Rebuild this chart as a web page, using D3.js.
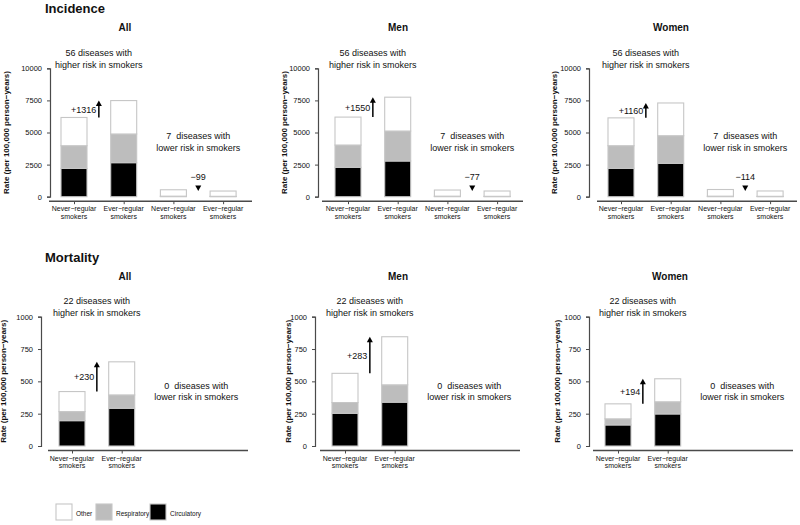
<!DOCTYPE html>
<html><head><meta charset="utf-8">
<script src="https://cdn.jsdelivr.net/npm/d3@7"></script>
<style>
body{margin:0;background:#fff}
svg text{font-family:"Liberation Sans",Arial,sans-serif;fill:#111}
</style>
</head><body>
<svg id="chart" width="800" height="525"></svg>
<script>
// ---------- DATA ----------
const panelNames = ["All", "Men", "Women"];
const slots = ["never-higher", "ever-higher", "never-lower", "ever-lower"];
const slotLabels = ["Never\u2212regular", "Ever\u2212regular", "Never\u2212regular", "Ever\u2212regular"];
const causes = ["Circulatory", "Respiratory", "Other"];
const legendOrder = ["Other", "Respiratory", "Circulatory"];
const incTicks = [0, 2500, 5000, 7500, 10000];
const mortTicks = [0, 250, 500, 750, 1000];

// Incidence, diseases with higher risk in smokers: [never, ever] per panel (All, Men, Women)
const incHighCirc  = [[2200, 2650], [2290, 2780], [2210, 2600]];
const incHighResp  = [[1770, 2235], [1735, 2335], [1760, 2150]];
const incHighOther = [[2200, 2601], [2175, 2635], [2170, 2550]];
// Incidence, diseases with lower risk in smokers
const incLowCirc   = [[20, 15], [20, 15], [20, 15]];
const incLowResp   = [[20, 15], [20, 15], [20, 15]];
const incLowOther  = [[500, 411], [480, 413], [520, 416]];
// Mortality, diseases with higher risk in smokers
const mortHighCirc  = [[196, 292], [253, 339], [163, 248]];
const mortHighResp  = [[70, 103], [83, 134], [47, 94]];
const mortHighOther = [[155, 256], [226, 372], [116, 178]];

const incHighCount = 56, incLowCount = 7, mortHighCount = 22, mortLowCount = 0;
const incHighDiff = ["+1316", "+1550", "+1160"];
const incLowDiff  = ["\u221299", "\u221277", "\u2212114"];
const mortHighDiff = ["+230", "+283", "+194"];

// ---------- STYLE / LAYOUT ----------
const colors = {Circulatory: "#000000", Respiratory: "#bdbdbd", Other: "#ffffff"};
const strokeCol = "#c6c6c6";
const axisCol = "#4a4a4a";
const barW = 26;

const rows = [
  {title: "Incidence", titleY: 13, yTop: 68.3, y0: 196.7, ticks: incTicks, max: 10000,
   axisX: [50, 318, 589], xLine: [[49, 252], [322, 523], [597, 797]], firstTick: [74, 348, 621],
   titleX: [125, 398, 671], panelTitleY: 30.5, ylabX: [9, 287, 557],
   high: [incHighCirc, incHighResp, incHighOther], low: [incLowCirc, incLowResp, incLowOther],
   highCount: incHighCount, lowCount: incLowCount, highDiff: incHighDiff, lowDiff: incLowDiff},
  {title: "Mortality", titleY: 262, yTop: 316.7, y0: 446, ticks: mortTicks, max: 1000,
   axisX: [41, 315, 589], xLine: [[48, 248], [320, 520], [593, 793]], firstTick: [72, 345, 618],
   titleX: [125, 398, 670], panelTitleY: 279.5, ylabX: [6, 291, 560],
   high: [mortHighCirc, mortHighResp, mortHighOther], low: null,
   highCount: mortHighCount, lowCount: mortLowCount, highDiff: mortHighDiff, lowDiff: null}
];
const step = 49.7;

const svg = d3.select("#chart");
svg.append("rect").attr("width", 800).attr("height", 525).attr("fill", "#fff");

function arrowHead(g, x, yTip, dir) { // dir -1 = up, +1 = down
  const L = 5.5, hw = 3;
  g.append("path")
    .attr("d", `M${x},${yTip} L${x - hw},${yTip - dir * L} L${x + hw},${yTip - dir * L} Z`)
    .attr("fill", "#000");
}

rows.forEach(row => {
  svg.append("text").attr("x", 45).attr("y", row.titleY)
    .attr("font-size", 13).attr("font-weight", "bold").text(row.title);

  panelNames.forEach((pname, pi) => {
    const g = svg.append("g");
    const y = d3.scaleLinear().domain([0, row.max]).range([row.y0, row.yTop]);
    const x = d3.scalePoint().domain(slots)
      .range([row.firstTick[pi], row.firstTick[pi] + 3 * step]);

    // panel title
    g.append("text").attr("x", row.titleX[pi]).attr("y", row.panelTitleY)
      .attr("text-anchor", "middle").attr("font-size", 10).attr("font-weight", "bold").text(pname);

    // y axis
    const ya = g.append("g").attr("transform", `translate(${row.axisX[pi]},0)`)
      .call(d3.axisLeft(y).tickValues(row.ticks).tickSize(3).tickPadding(5).tickFormat(d3.format("d")));
    ya.select(".domain").attr("stroke", axisCol).attr("stroke-width", 1.2);
    ya.selectAll(".tick line").attr("stroke", axisCol);
    ya.selectAll(".tick text").attr("font-size", 7.5).attr("font-family", "Liberation Sans, Arial, sans-serif").attr("fill", "#111");

    // y label
    g.append("text")
      .attr("transform", `translate(${row.ylabX[pi]},${(row.y0 + row.yTop) / 2}) rotate(-90)`)
      .attr("text-anchor", "middle").attr("font-size", 8).attr("font-weight", "bold")
      .text("Rate (per 100,000 person\u2212years)");

    // x axis line
    const axY = row.y0 + 4.5;
    g.append("line").attr("x1", row.xLine[pi][0]).attr("x2", row.xLine[pi][1])
      .attr("y1", axY).attr("y2", axY).attr("stroke", axisCol).attr("stroke-width", 1.5);

    const usedSlots = row.low ? slots : slots.slice(0, 2);
    const xa = g.append("g").attr("transform", `translate(0,${axY})`)
      .call(d3.axisBottom(x).tickValues(usedSlots).tickSize(3).tickFormat(""));
    xa.select(".domain").remove();
    xa.selectAll(".tick line").attr("stroke", axisCol);
    usedSlots.forEach((s, i) => {
      const t = g.append("text").attr("x", x(s)).attr("y", axY + 10)
        .attr("text-anchor", "middle").attr("font-size", 7);
      t.append("tspan").attr("x", x(s)).attr("dy", 0).text(slotLabels[i]);
      t.append("tspan").attr("x", x(s)).attr("dy", 7.5).text("smokers");
    });

    // bars
    function drawGroup(parts, slotPair) {
      return [0, 1].map(j => {
        let base = 0;
        parts.forEach((arr, ci) => {
          const v = arr[pi][j];
          g.append("rect")
            .attr("x", x(slotPair[j]) - barW / 2)
            .attr("y", y(base + v))
            .attr("width", barW)
            .attr("height", y(base) - y(base + v))
            .attr("fill", colors[causes[ci]])
            .attr("stroke", strokeCol).attr("stroke-width", 1.1);
          base += v;
        });
        return base;
      });
    }

    const hiTot = drawGroup(row.high, ["never-higher", "ever-higher"]);
    const midHi = (x("never-higher") + x("ever-higher")) / 2;
    const midLo = (x("never-lower") + x("ever-lower")) / 2;

    // up arrow
    const yA = y(hiTot[0]), yB = y(hiTot[1]);
    g.append("line").attr("x1", midHi).attr("x2", midHi).attr("y1", yA).attr("y2", yB + 4)
      .attr("stroke", "#000").attr("stroke-width", 1.5);
    arrowHead(g, midHi, yB, -1);
    g.append("text").attr("x", midHi - 2.5).attr("y", (yA + yB) / 2 + 3.5)
      .attr("text-anchor", "end").attr("font-size", 9).text(row.highDiff[pi]);

    // annotation higher
    const hy = row.yTop - 0.5;
    g.append("text").attr("x", midHi).attr("y", hy - 12).attr("text-anchor", "middle")
      .attr("font-size", 9).text(`${row.highCount} diseases with`);
    g.append("text").attr("x", midHi).attr("y", hy).attr("text-anchor", "middle")
      .attr("font-size", 9).text("higher risk in smokers");

    // annotation lower
    const ly = row.y0 - 46;
    g.append("text").attr("x", midLo).attr("y", ly - 11.5).attr("text-anchor", "middle")
      .attr("font-size", 9).style("white-space", "pre").text(`${row.lowCount}  diseases with`);
    g.append("text").attr("x", midLo).attr("y", ly).attr("text-anchor", "middle")
      .attr("font-size", 9).text("lower risk in smokers");

    if (row.low) {
      const loTot = drawGroup(row.low, ["never-lower", "ever-lower"]);
      arrowHead(g, midLo, y(loTot[1]), 1);
      g.append("text").attr("x", midLo).attr("y", y(loTot[0]) - 10)
        .attr("text-anchor", "middle").attr("font-size", 9).text(row.lowDiff[pi]);
    }
  });
});

// legend
const lg = svg.append("g");
const legX = [56, 96, 150];
legendOrder.forEach((c, i) => {
  lg.append("rect").attr("x", legX[i]).attr("y", 504).attr("width", 16).attr("height", 16)
    .attr("fill", colors[c]).attr("stroke", strokeCol).attr("stroke-width", 1.1);
  lg.append("text").attr("x", legX[i] + 20).attr("y", 515.5).attr("font-size", 6.5).text(c);
});
</script>
</body></html>
